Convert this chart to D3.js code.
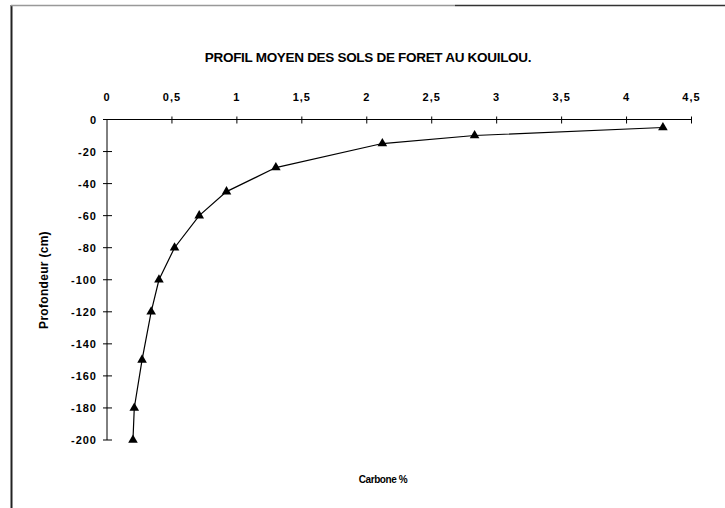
<!DOCTYPE html>
<html>
<head>
<meta charset="utf-8">
<script src="https://cdn.jsdelivr.net/npm/d3@7"></script>
<style>
  html, body { margin: 0; padding: 0; background: #fff; }
  svg text { font-family: "Liberation Sans", Arial, sans-serif; font-weight: bold; fill: #000; }
</style>
</head>
<body>
<svg id="chart" width="725" height="508"></svg>
<script>
// Mean soil profile: carbon content (%) against depth (cm)
const carbone = [4.28, 2.83, 2.12, 1.30, 0.92, 0.71, 0.52, 0.40, 0.34, 0.27, 0.21, 0.20];
const profondeur = [-5, -10, -15, -30, -45, -60, -80, -100, -120, -150, -180, -200];
const xTicks = [0, 0.5, 1, 1.5, 2, 2.5, 3, 3.5, 4, 4.5];
const yTicks = [0, -20, -40, -60, -80, -100, -120, -140, -160, -180, -200];
const titre = "PROFIL MOYEN DES SOLS DE FORET AU KOUILOU.";
const titreX = "Carbone %";
const titreY = "Profondeur (cm)";

const svg = d3.select("#chart");
const frFmt = d => String(d).replace(".", ",");

// Page frame: left and top borders
svg.append("line").attr("x1", 11.5).attr("x2", 11.5).attr("y1", 5).attr("y2", 508)
  .attr("stroke", "#222").attr("stroke-width", 2);
svg.append("line").attr("x1", 11).attr("x2", 455).attr("y1", 5.5).attr("y2", 5.5)
  .attr("stroke", "#999").attr("stroke-width", 1.5);
svg.append("line").attr("x1", 455).attr("x2", 725).attr("y1", 5.5).attr("y2", 5.5)
  .attr("stroke", "#333").attr("stroke-width", 1.5);

const x = d3.scaleLinear().domain([0, 4.5]).range([107, 691.5]);
const y = d3.scaleLinear().domain([0, -200]).range([119.5, 440]);

// Title
svg.append("text").attr("x", 368).attr("y", 62).attr("text-anchor", "middle")
  .style("font-size", "13.5px").style("letter-spacing", "-0.3px").text(titre);

// Top x axis (crossing ticks)
const gx = svg.append("g").attr("transform", `translate(0,${y(0)})`);
gx.append("line").attr("x1", x(0)).attr("x2", x(4.5)).attr("stroke", "#000");
gx.selectAll("line.t").data(xTicks.slice(1)).join("line").attr("class", "t")
  .attr("x1", d => x(d)).attr("x2", d => x(d)).attr("y1", -3).attr("y2", 4)
  .attr("stroke", "#000");
svg.selectAll("text.xt").data(xTicks).join("text").attr("class", "xt")
  .attr("x", d => x(d)).attr("y", 101).attr("text-anchor", "middle")
  .style("font-size", "11px").style("letter-spacing", "1px").text(frFmt);

// Left y axis (crossing ticks)
const gy = svg.append("g").attr("transform", `translate(${x(0)},0)`);
gy.append("line").attr("y1", y(0)).attr("y2", y(-200)).attr("stroke", "#000");
gy.selectAll("line.t").data(yTicks).join("line").attr("class", "t")
  .attr("y1", d => y(d)).attr("y2", d => y(d)).attr("x1", -4).attr("x2", 5)
  .attr("stroke", "#000");
svg.selectAll("text.yt").data(yTicks).join("text").attr("class", "yt")
  .attr("x", 97).attr("y", d => y(d) + 4).attr("text-anchor", "end")
  .style("font-size", "11px").style("letter-spacing", "1px").text(d => String(d));

// Axis titles
svg.append("text").attr("transform", "translate(48,280) rotate(-90)")
  .attr("text-anchor", "middle").style("font-size", "12px").style("letter-spacing", "0.3px").text(titreY);
svg.append("text").attr("x", 383).attr("y", 483).attr("text-anchor", "middle")
  .style("font-size", "10px").style("letter-spacing", "-0.4px").text(titreX);

// Profile line and triangle markers
const pts = carbone.map((c, i) => [c, profondeur[i]]);
svg.append("path").datum(pts)
  .attr("d", d3.line().x(d => x(d[0])).y(d => y(d[1])))
  .attr("fill", "none").attr("stroke", "#000").attr("stroke-width", 1.2);
svg.selectAll("path.m").data(pts).join("path").attr("class", "m")
  .attr("transform", d => `translate(${x(d[0])},${y(d[1])})`)
  .attr("d", d3.symbol(d3.symbolTriangle, 40))
  .attr("fill", "#000");
</script>
</body>
</html>
